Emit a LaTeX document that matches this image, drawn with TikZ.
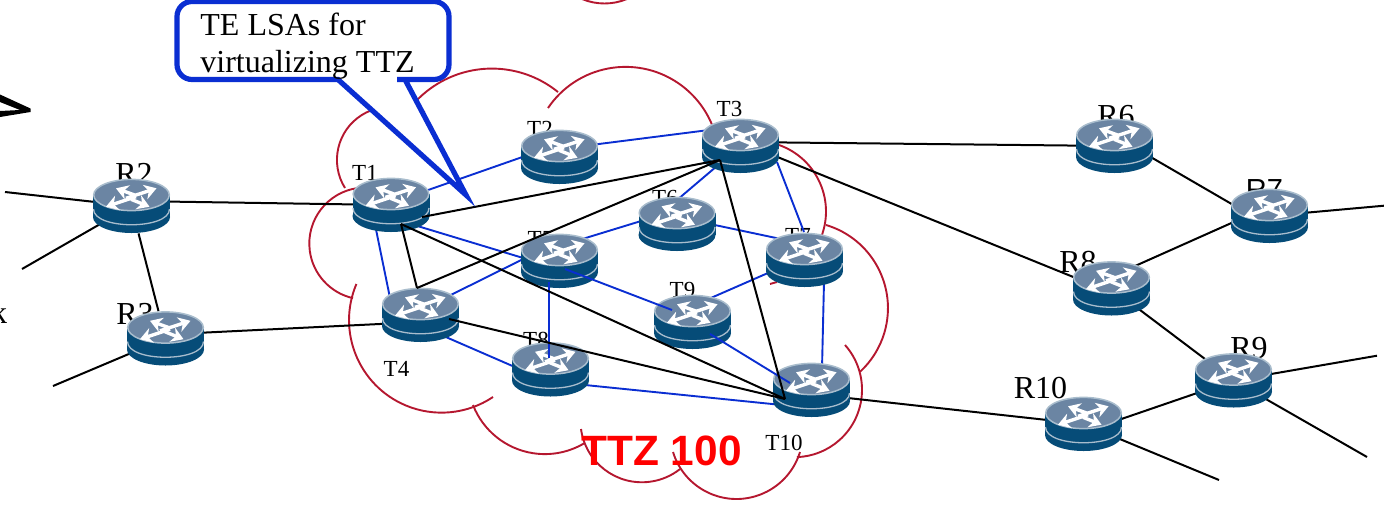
\documentclass[tikz,border=0pt]{standalone}
\usepackage{fontspec}
\setmainfont{Liberation Serif}
\newfontfamily\arialfont{Liberation Sans}
\usetikzlibrary{arrows.meta,backgrounds}

\definecolor{rbody}{HTML}{064C78}
\definecolor{rtop}{HTML}{6B85A3}
\definecolor{rrim}{HTML}{A9BDCD}
\definecolor{cloudred}{HTML}{B5172F}
\definecolor{teblue}{HTML}{0A2ED2}

\tikzset{
    router/.style={minimum width=38.5pt,minimum height=27pt,inner sep=0pt},
    rarrow/.style={white,line width=1.7pt,-{Stealth[length=6pt,width=7.5pt]}},
    wan/.style={black,line width=1pt},
    telink/.style={teblue,line width=0.95pt},
    cloudarc/.style={cloudred,line width=0.95pt},
    bigname/.style={font=\fontsize{16}{18}\selectfont,anchor=base,inner sep=0pt},
    smallname/.style={font=\fontsize{11.5}{13}\selectfont,anchor=base,inner sep=0pt}
}

\newcommand{\routericon}[1]{
    \begin{scope}[shift={(#1)}]
        \fill[rbody] (0,11) circle[x radius=38.5,y radius=16];
        \fill[rbody] (-38.5,-11) rectangle (38.5,11);
        \draw[rrim,line width=0.65pt] (-38,3) .. controls (-38,24) and (38,24) .. (38,3);
        \draw[rrim,fill=rtop,line width=0.75pt] (0,-11) circle[x radius=37.8,y radius=15.6];
        \draw[rarrow] (3,-11) -- (-15.5,-17.7);
        \draw[rarrow] (-5.5,-7.7) -- (25,-17.7);
        \draw[rarrow] (4.5,-9.3) -- (-25.5,0.7);
        \draw[rarrow] (-0.5,-6.7) -- (18,0.7);
    \end{scope}
}

\begin{document}
\begin{tikzpicture}[x=0.5pt,y=-0.5pt]
    \useasboundingbox (0,0) rectangle (1384,504);

    % Routers
    \foreach \rname/\rx/\ry in {R2/131.5/206, R3/165.5/338.5, R6/1114.5/146, R7/1269.5/216,
        R8/1111.5/288.5, R9/1233.5/380.5, R10/1083.5/424,
        T1/391/205, T2/559.5/157, T3/740.5/146, T4/420.5/315, T5/559.5/261,
        T6/677/224, T7/804.5/260, T8/550.5/369.5, T9/692.5/322, T10/811.5/390} {
        \node[router] (\rname) at (\rx,\ry) {};
        \routericon{\rx,\ry}
    }

    % Free ends
    \coordinate (R2w) at (5,192);
    \coordinate (R2s) at (22,269);
    \coordinate (R3s) at (53,386);
    \coordinate (R7e) at (1384,205.7);
    \coordinate (R9e) at (1377,355.7);
    \coordinate (R9s) at (1367,457);
    \coordinate (R10s) at (1219,480);

    \begin{scope}[on background layer]
        % Cloud
        \foreach \sx/\sy/\sa/\ea/\rad in {358/188/262.5/102.7/56, 410/108/218.6/309.1/104.8,
            548/108/214.1/337.7/93.6, 779/145/289.5/379.5/70.5, 826/225/286.6/407.4/86.7,
            845/345/318.4/448/67.4, 673/452/163/17/66.4, 581/429/172.3/51.7/61.5,
            473/405/158.7/58.8/77.1, 356.4/284/203/56.2/92.5, 582/-1/112.6/67.4/58.5} {
            \draw[cloudarc] (\sx,\sy) arc[start angle=\sa,end angle=\ea,radius=\rad];
        }
        \draw[cloudarc] (345,188) arc[start angle=148,end angle=281,radius=53] -- (425,112);
        \draw[cloudarc] (770,284) -- (777,282);

        % Links outside the zone
        \draw[wan] (R2w) -- (R2.center);
        \draw[wan] (R2s) -- (R2.center);
        \draw[wan] (R2) -- (R3);
        \draw[wan] (R3s) -- (R3.center);
        \draw[wan] ([yshift=2pt]R3.center) -- ([yshift=-3.5pt]T4.center);
        \draw[wan] ([yshift=2.5pt]R2.center) -- (T1.center);
        \draw[wan] ([yshift=2pt]T3.center) -- (R6.center);
        \draw[wan] ([yshift=2pt]T3.center) -- ([yshift=-2pt]R8.center);
        \draw[wan] ([yshift=-2pt]T10.center) -- (R10.center);
        \draw[wan] ([yshift=5pt]R6.center) -- ([yshift=-5pt]R7.center);
        \draw[wan] ([yshift=5pt]R7.center) -- ([yshift=6pt]R8.center);
        \draw[wan] (R7.center) -- (R7e);
        \draw[wan] (R8.center) -- (R9.center);
        \draw[wan] (R9.center) -- (R9e);
        \draw[wan] (R9.center) -- (R9s);
        \draw[wan] (R9.center) -- ([yshift=-4pt]R10.center);
        \draw[wan] (R10.center) -- (R10s);

        % TE links behind the routers
        \foreach \a/\ady/\b/\bdy in {T1/1/T2/6.5, T2/4/T3/10, T1/-6.5/T5/-4, T4/2.5/T5/10,
            T5/7.5/T6/7, T3/0/T6/12, T6/3.5/T7/8, T7/1.5/T9/8, T4/-5.5/T8/-6.5, T8/-6/T10/-9} {
            \draw[telink] ([yshift=\ady pt]\a.center) -- ([yshift=\bdy pt]\b.center);
        }
        \draw[telink] ([xshift=-10pt]T1.center) -- ([xshift=-13.5pt]T4.center);
        \draw[telink] ([xshift=10pt]T7.center) -- ([xshift=5pt]T10.center);

        % Names
        \foreach \lname/\lx/\ly in {R2/134/184, R3/135/324, R6/1116/126, R8/1078/272, R9/1249/358, R10/1040.5/398} {
            \node[bigname] (label\lname) at (\lx,\ly) {\lname};
        }
        \node[bigname,font=\arialfont\fontsize{14.5}{16}\selectfont] (labelR7) at (1264.5,199) {R7};
        \foreach \lname/\lx/\ly in {T1/365/180, T2/540/136, T3/729.5/116.7, T5/540.5/246, T6/665/205,
            T7/798/243, T8/536/347, T9/682.5/297, T4/396.5/376.7, T10/784/450.7} {
            \node[smallname] (label\lname) at (\lx,\ly) {\lname};
        }
    \end{scope}

    % TE links over the routers
    \coordinate (T3p) at (720,160);
    \coordinate (T10p) at (785,399);
    \coordinate (T1p) at (401,224);
    \coordinate (T1q) at (422,217);
    \coordinate (T4p) at (417,288);
    \coordinate (T4q) at (449,319);
    \coordinate (T5p) at (549,282);
    \coordinate (T5q) at (565,269);
    \coordinate (T7p) at (804,232);
    \coordinate (T3q) at (777,162);
    \coordinate (T8p) at (549,358);
    \coordinate (T9p) at (672,310);
    \coordinate (T9q) at (710,334);
    \coordinate (T10q) at (790,383);
    \draw[telink] (T3q) -- (T7p);
    \draw[telink] (T5p) -- (T8p);
    \draw[telink] (T5q) -- (T9p);
    \draw[telink] (T9q) -- (T10q);
    \draw[wan] (T1q) -- (T3p);
    \draw[wan] (T4p) -- (T3p);
    \draw[wan] (T1p) -- (T4p);
    \draw[wan] (T1p) -- (T10p);
    \draw[wan] (T4q) -- (T10p);
    \draw[wan] (T3p) -- (T10p);

    % Callout
    \coordinate (calloutTip) at (466,195);
    \draw[teblue,line width=2.6pt,fill=white] (338,79.5) [rounded corners=7.5pt] -- (177,79.5) -- (177,1.5) -- (449,1.5) -- (449,79.5) -- (412,79.5) [sharp corners] -- (405,79.5) -- (calloutTip) -- cycle;
    \node[anchor=west,inner sep=0pt,align=left,font=\fontsize{16}{18.5}\selectfont] (calloutText) at (200,46) {TE LSAs for\\virtualizing TTZ};

    % Zone name and cut off pieces
    \node[anchor=base,inner sep=0pt,text=red,font=\arialfont\bfseries\fontsize{21.2}{24}\selectfont] (zoneName) at (661.5,465) {TTZ 100};
    \node[anchor=base east,inner sep=0pt,font=\fontsize{16}{18}\selectfont] (cutText) at (7.5,323) {k};
    \fill[black] (0,94.5) -- (30.5,108.5) -- (30.5,112) -- (0,117) -- (0,111) -- (20,110) -- (0,102) -- cycle;
\end{tikzpicture}
\end{document}
